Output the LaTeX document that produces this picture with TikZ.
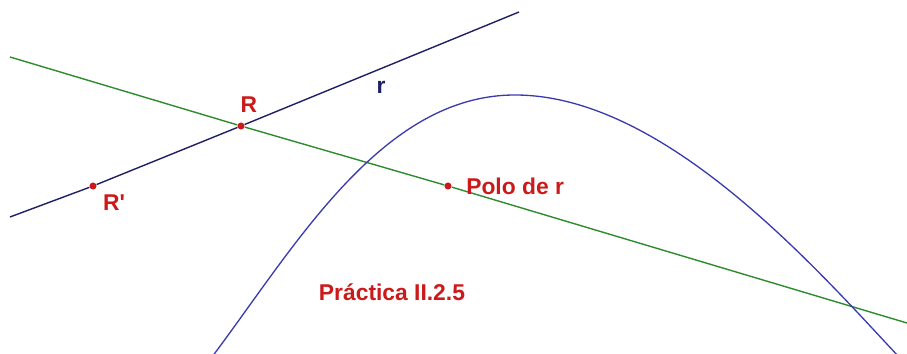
\documentclass[tikz,border=0pt]{standalone}
\usepackage{fontspec}
\setmainfont{Liberation Sans}
\usepackage{xcolor}
\usepackage{tikz}
\usetikzlibrary{positioning}
\definecolor{poloRed}{HTML}{CC1A1A}
\definecolor{rectaNavy}{HTML}{1F1F66}
\definecolor{conicaBlue}{HTML}{3A3AB0}
\definecolor{polarGreen}{HTML}{2E8B2E}

\begin{document}
\begin{tikzpicture}[
  x=0.02cm, y=-0.02cm,
  font=\fontsize{13}{15}\selectfont\bfseries,
  recta/.style={draw=rectaNavy, line width=0.8pt},
  polar/.style={draw=polarGreen, line width=0.8pt},
  conica/.style={draw=conicaBlue, line width=0.75pt},
  punto/.style={circle, fill=poloRed, inner sep=0pt, minimum size=4pt},
  etiqueta/.style={text=poloRed, inner sep=1pt}
]
  \useasboundingbox (0,0) rectangle (907,354);

  % puntos
  \node[punto] (R) at (241,126) {};
  \node[punto] (Rp) at (93,186) {};
  \node[punto] (polo) at (448,186) {};
  \coordinate (r1) at (10,217);
  \coordinate (r2) at (519,12);
  \coordinate (g1) at (10,57);
  \coordinate (g2) at (907,323);
  \coordinate (c1) at (212,357);
  \coordinate (cv) at (515,95);
  \coordinate (c2) at (899,357);

  % rectas
  \draw[recta] (r1) -- (Rp) -- (R) -- (r2);
  \draw[polar] (g1) -- (R) -- (polo) -- (g2);

  % conica
  \draw[conica] (c1) .. controls (296,245) and (382,95) .. (cv)
    .. controls (665,95) and (817,269.5) .. (c2);

  % etiquetas
  \node[etiqueta, above right=5pt and -3pt of R] (lR) {R};
  \node[etiqueta, below right=2pt and 3pt of Rp] (lRp) {R\textquotesingle};
  \node[etiqueta, right=7pt of polo] (lpolo) {Polo de r};
  \node[text=rectaNavy] (lr) at (381,87) {r};
  \node[etiqueta] (titulo) at (392,292) {Práctica II.2.5};
\end{tikzpicture}
\end{document}
